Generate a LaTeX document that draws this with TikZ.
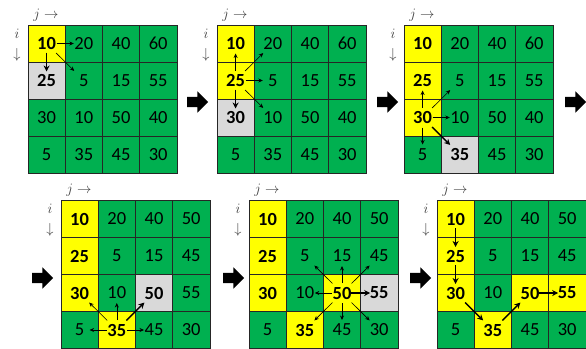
\documentclass[tikz,border=0pt]{standalone}
\usepackage{fontspec}
\setmainfont{Carlito}
\usetikzlibrary{arrows.meta, shapes.arrows}
\definecolor{boardgreen}{HTML}{00B050}
\definecolor{pathyellow}{HTML}{FFFF00}
\definecolor{nextgrey}{HTML}{D9D9D9}
\definecolor{axisgrey}{HTML}{404040}
\newcommand{\cw}{37.2}
\newcommand{\ch}{37}
% one 4x4 board: #1 name, #2 top left corner, #3 rows of values
\newcommand{\board}[3]{%
  \begin{scope}[shift={#2}, name prefix=#1-]
    \foreach \row [count=\r] in {#3} {
      \foreach \v [count=\c] in \row {
        \node[cell, #1-\r\c/.try] (n\r\c) at (\c*\cw-0.5*\cw, \r*\ch-0.5*\ch) {\v};
      }
    }
    \node[axis] (jlab) at (18,-10) {$j\rightarrow$};
    \node[axis, align=center] (ilab) at (-11,20) {$i$\\[5pt]$\downarrow$};
  \end{scope}}

\begin{document}
\begin{tikzpicture}[x=1pt, y=-1pt,
    cell/.style={draw=black!85, line width=0.6pt, fill=boardgreen,
                 minimum width=\cw pt, minimum height=\ch pt, inner sep=0pt,
                 font=\fontsize{18.5}{18.5}\selectfont},
    hot/.style={fill=pathyellow, font=\fontsize{18.5}{18.5}\selectfont\bfseries},
    next/.style={fill=nextgrey, font=\fontsize{18.5}{18.5}\selectfont\bfseries},
    axis/.style={text=axisgrey, inner sep=0pt, font=\fontsize{15}{15}\selectfont},
    probe/.style={line width=0.6pt, -{Stealth[length=4.5pt, width=4pt]},
                  shorten <=10pt, shorten >=10pt},
    pick/.style={line width=1.4pt, -{Stealth[length=6pt, width=6pt]},
                 shorten <=9pt, shorten >=9pt},
    diag/.style={shorten <=13.5pt, shorten >=13.5pt},
    bigarrow/.style={single arrow, fill=black, inner xsep=0pt, inner ysep=5pt,
                     minimum height=21pt, single arrow head extend=5.5pt}]
  \useasboundingbox (0,0) rectangle (586,348);
  % which cells are on the path, which one is taken next
  \tikzset{g1-11/.style=hot, g1-21/.style=next,
           g2-11/.style=hot, g2-21/.style=hot, g2-31/.style=next,
           g3-11/.style=hot, g3-21/.style=hot, g3-31/.style=hot, g3-42/.style=next,
           g4-11/.style=hot, g4-21/.style=hot, g4-31/.style=hot, g4-42/.style=hot,
           g4-33/.style=next,
           g5-11/.style=hot, g5-21/.style=hot, g5-31/.style=hot, g5-42/.style=hot,
           g5-33/.style=hot, g5-34/.style=next,
           g6-11/.style=hot, g6-21/.style=hot, g6-31/.style=hot, g6-42/.style=hot,
           g6-33/.style=hot, g6-34/.style=hot}

  \board{g1}{(28,25)}{{10,20,40,60},{25,5,15,55},{30,10,50,40},{5,35,45,30}}
  \board{g2}{(217,25)}{{10,20,40,60},{25,5,15,55},{30,10,50,40},{5,35,45,30}}
  \board{g3}{(404,25)}{{10,20,40,60},{25,5,15,55},{30,10,50,40},{5,35,45,30}}
  \board{g4}{(61,200.5)}{{10,20,40,50},{25,5,15,45},{30,10,50,55},{5,35,45,30}}
  \board{g5}{(249,200.5)}{{10,20,40,50},{25,5,15,45},{30,10,50,55},{5,35,45,30}}
  \board{g6}{(437,200.5)}{{10,20,40,50},{25,5,15,45},{30,10,50,55},{5,35,45,30}}

  % steps between the boards
  \node[bigarrow] (go1) at (195,102) {};
  \node[bigarrow] (go2) at (385,102) {};
  \node[bigarrow] (go3) at (573,102) {};
  \node[bigarrow] (go4) at (40,278) {};
  \node[bigarrow] (go5) at (231,278) {};
  \node[bigarrow] (go6) at (418,278) {};

  % board 1
  \draw[probe] (g1-n11.center) -- (g1-n12.center);
  \draw[probe, diag] (g1-n11.center) -- (g1-n22.center);
  \draw[pick] (g1-n11.center) -- (g1-n21.center);
  % board 2
  \foreach \t in {11,22} \draw[probe] (g2-n21.center) -- (g2-n\t.center);
  \foreach \t in {12,32} \draw[probe, diag] (g2-n21.center) -- (g2-n\t.center);
  \draw[pick] (g2-n21.center) -- (g2-n31.center);
  % board 3
  \foreach \t in {21,32,41} \draw[probe] (g3-n31.center) -- (g3-n\t.center);
  \draw[probe, diag] (g3-n31.center) -- (g3-n22.center);
  \draw[pick, diag] (g3-n31.center) -- (g3-n42.center);
  % board 4
  \foreach \t in {32,41,43} \draw[probe] (g4-n42.center) -- (g4-n\t.center);
  \draw[probe, diag] (g4-n42.center) -- (g4-n31.center);
  \draw[pick, diag] (g4-n42.center) -- (g4-n33.center);
  % board 5
  \foreach \t in {23,32,43} \draw[probe] (g5-n33.center) -- (g5-n\t.center);
  \foreach \t in {22,24,42,44} \draw[probe, diag] (g5-n33.center) -- (g5-n\t.center);
  \draw[pick] (g5-n33.center) -- (g5-n34.center);
  % board 6: the whole path
  \draw[pick] (g6-n11.center) -- (g6-n21.center);
  \draw[pick] (g6-n21.center) -- (g6-n31.center);
  \draw[pick, diag] (g6-n31.center) -- (g6-n42.center);
  \draw[pick, diag] (g6-n42.center) -- (g6-n33.center);
  \draw[pick] (g6-n33.center) -- (g6-n34.center);
\end{tikzpicture}
\end{document}
